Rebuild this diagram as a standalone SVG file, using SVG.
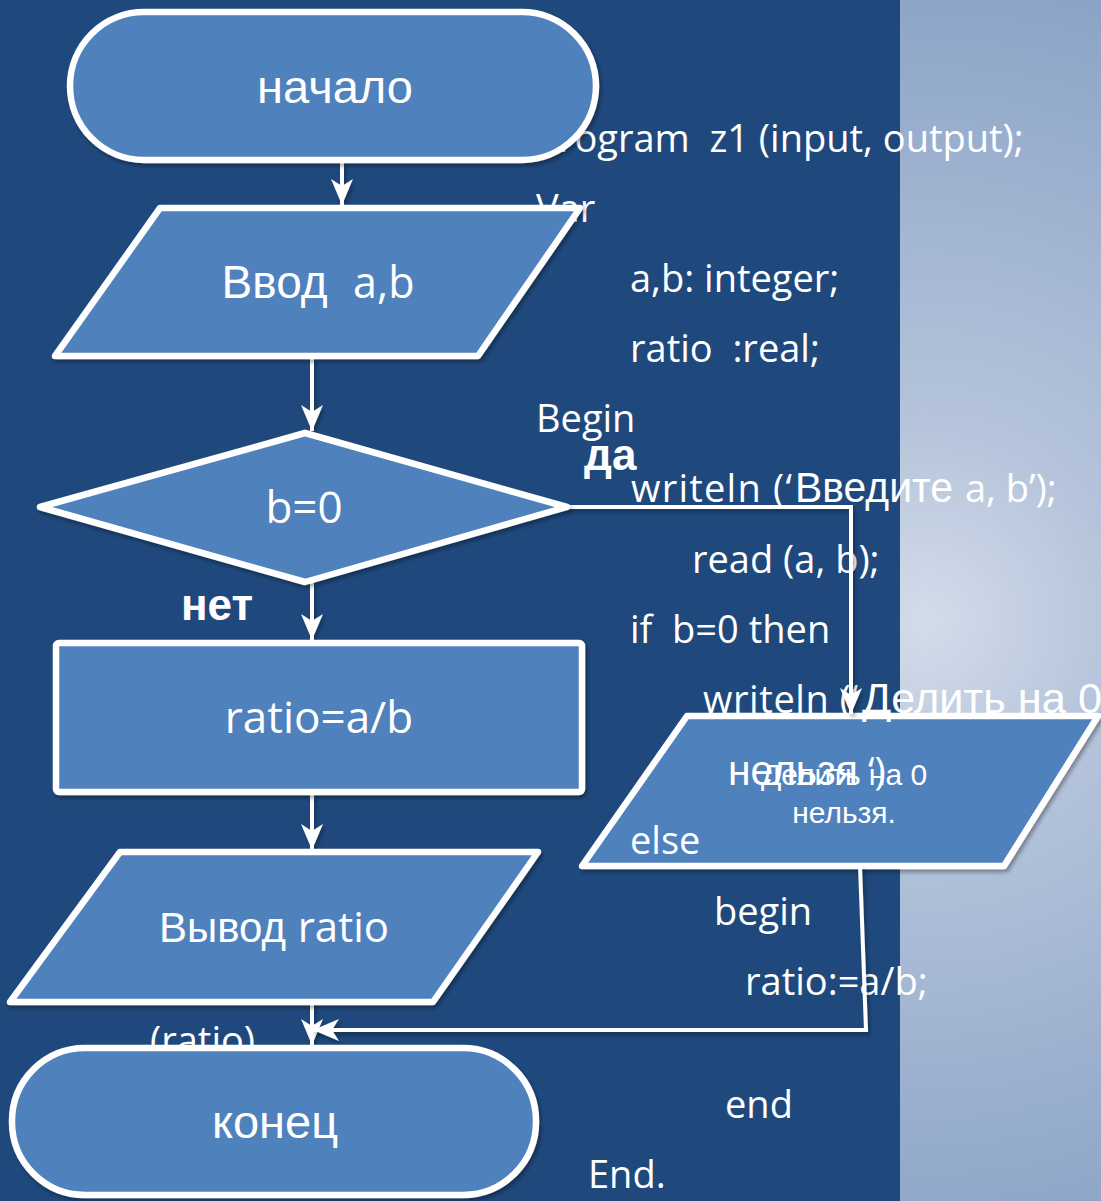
<svg xmlns="http://www.w3.org/2000/svg" width="1101" height="1201" viewBox="0 0 1101 1201">
<defs>
<radialGradient id="bgR" gradientUnits="userSpaceOnUse" cx="925" cy="620" r="650">
<stop offset="0" stop-color="#D3DCEA"/>
<stop offset="0.3" stop-color="#B5C4DB"/>
<stop offset="1" stop-color="#8AA3C6"/>
</radialGradient>
<filter id="sh" filterUnits="userSpaceOnUse" x="0" y="0" width="1101" height="1201">
<feDropShadow dx="2" dy="3" stdDeviation="2" flood-color="#000" flood-opacity="0.35"/>
</filter>
<marker id="ah" markerUnits="userSpaceOnUse" markerWidth="28" markerHeight="22" refX="26" refY="11" orient="auto" viewBox="0 0 28 22">
<path d="M0,0 L26,11 L0,22 L7,11 z" fill="#FFFFFF"/>
</marker>
<style>
.shape{fill:#4F81BD;stroke:#FFFFFF;stroke-width:6.5;stroke-linejoin:round;filter:url(#sh)}
.lbl{fill:#FFFFFF;font-family:"Liberation Sans",Arial,sans-serif;text-anchor:middle;white-space:pre}
.code{fill:#FFFFFF;font-family:"Open Sans","Noto Sans",sans-serif;font-size:38px;white-space:pre}
.cy{fill:#FFFFFF;font-family:"Liberation Sans",Arial,sans-serif;font-size:42px;white-space:pre}
.os{font-family:"Open Sans","Noto Sans",sans-serif}
.bold{fill:#FFFFFF;font-family:"Liberation Sans",Arial,sans-serif;font-weight:bold;font-size:44px}
.conn{fill:none;stroke:#FFFFFF;stroke-width:4;filter:url(#sh)}
</style>
</defs>
<rect x="0" y="0" width="1101" height="1201" fill="#1F497D"/>
<rect x="900" y="0" width="201" height="1201" fill="url(#bgR)"/>

<g id="node-output-error">
<polygon class="shape" points="687,716 1098,716 1004,866 582,866"/>
<text class="lbl" font-size="30"><tspan x="844" y="785">Делить на 0</tspan><tspan x="844" y="823">нельзя.</tspan></text>
</g>

<g id="code">
<text class="code" x="536" y="152">Program  z1 (input, output);</text>
<text class="code" x="536" y="222">Var</text>
<text class="code" x="630" y="292">a,b: integer;</text>
<text class="code" x="630" y="362">ratio  :real;</text>
<text class="code" x="536" y="432">Begin</text>
<text class="code" x="631" y="502" textLength="161" lengthAdjust="spacing">writeln (‘</text>
<text class="cy" x="795" y="502" textLength="158" lengthAdjust="spacingAndGlyphs">Введите</text>
<text class="code" x="965" y="502">a, b’);</text>
<text class="code" x="692" y="573">read (a, b);</text>
<text class="code" x="630" y="643">if  b=0 then</text>
<text class="code" x="703" y="713" textLength="155" lengthAdjust="spacing">writeln (‘</text>
<text class="cy" x="862" y="713" textLength="240" lengthAdjust="spacingAndGlyphs">Делить на 0</text>
<text class="cy" x="728" y="785" textLength="130" lengthAdjust="spacingAndGlyphs">нельзя</text>
<text class="code" x="868" y="785">‘)</text>
<text class="code" x="630" y="854">else</text>
<text class="code" x="714" y="925">begin</text>
<text class="code" x="745" y="995">ratio:=a/b;</text>
<text class="code" x="725" y="1118">end</text>
<text class="code" x="588" y="1188">End.</text>
<text class="code" x="150" y="1054">(ratio)</text>
</g>

<g id="connectors">
<line class="conn" x1="342" y1="162" x2="342" y2="205" marker-end="url(#ah)"/>
<line class="conn" x1="312" y1="357" x2="312" y2="431" marker-end="url(#ah)"/>
<line class="conn" x1="312" y1="582" x2="312" y2="640" marker-end="url(#ah)"/>
<line class="conn" x1="312" y1="795" x2="312" y2="850" marker-end="url(#ah)"/>
<line class="conn" x1="312" y1="1002" x2="312" y2="1045" marker-end="url(#ah)"/>
<polyline class="conn" points="567,507 851,507 851,714" marker-end="url(#ah)"/>
<polyline class="conn" points="860,866 866,1030 313,1030" marker-end="url(#ah)"/>
</g>

<g id="node-start">
<rect class="shape" x="70" y="12" width="526" height="148" rx="74"/>
<text class="lbl" x="335" y="103" font-size="47">начало</text>
</g>

<g id="node-input">
<polygon class="shape" points="160,208 580,208 478,356 55,356"/>
<text class="lbl" x="318" y="298" font-size="46">Ввод  <tspan class="os" font-size="43">a,b</tspan></text>
</g>

<g id="node-decision">
<polygon class="shape" points="305,433 567,507 305,582 40,507"/>
<text class="lbl os" x="304" y="523" font-size="44">b=0</text>
</g>
<text class="bold" x="584" y="470">да</text>
<text class="bold" x="181" y="620">нет</text>

<g id="node-process">
<rect class="shape" x="56" y="643" width="526" height="149" rx="3"/>
<text class="lbl os" x="319" y="733" font-size="44">ratio=a/b</text>
</g>

<g id="node-output">
<polygon class="shape" points="120,852 538,852 433,1002 10,1002"/>
<text class="lbl" x="274" y="942" font-size="42">Вывод <tspan class="os">ratio</tspan></text>
</g>

<g id="node-end">
<rect class="shape" x="12" y="1048" width="524" height="147" rx="73"/>
<text class="lbl" x="275" y="1138" font-size="47">конец</text>
</g>
</svg>
